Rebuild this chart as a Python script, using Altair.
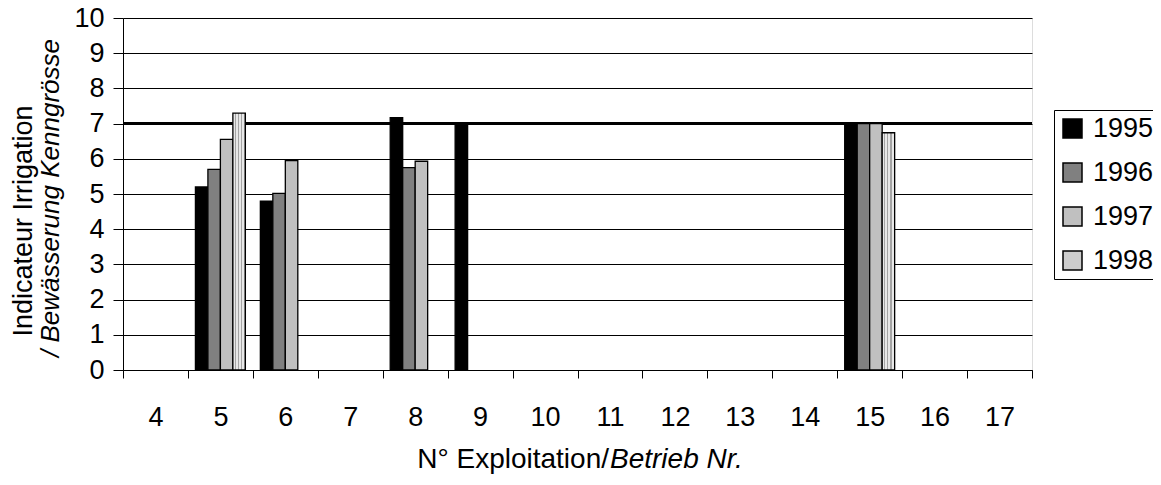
import altair as alt
import pandas as pd

# ---- data ----
farms = ["4", "5", "6", "7", "8", "9", "10", "11", "12", "13", "14", "15", "16", "17"]
years = ["1995", "1996", "1997", "1998"]
bar_farm = ["5", "5", "5", "5", "6", "6", "6", "8", "8", "8", "9", "15", "15", "15", "15"]
bar_year = ["1995", "1996", "1997", "1998", "1995", "1996", "1997", "1995", "1996", "1997",
            "1995", "1995", "1996", "1997", "1998"]
bar_value = [5.2, 5.7, 6.55, 7.3, 4.8, 5.02, 5.95, 7.17, 5.75, 5.93, 7.0, 7.02, 7.0, 7.0, 6.74]
threshold = [7]
y_ticks = list(range(0, 11))
year_colors = ["#000000", "#808080", "#c0c0c0", "#cdcdcd"]

y_title_1 = "Indicateur Irrigation"
y_title_2 = "/ Bewässerung Kenngrösse"
x_title_1 = "N° Exploitation/"
x_title_2 = "Betrieb Nr."

FONT = "Liberation Sans"
FS = 27

df = pd.DataFrame({"farm": bar_farm, "year": bar_year, "value": bar_value})

# dotted-texture look for the 1998 series (vertical stripes)
stops = []
for i in range(4):
    a = i / 4
    stops += [{"offset": a, "color": "#e8e8e8"}, {"offset": a + 0.16, "color": "#e8e8e8"},
              {"offset": a + 0.16, "color": "#a4a4a4"}, {"offset": a + 0.25, "color": "#a4a4a4"}]
texture = {"gradient": "linear", "x1": 0, "y1": 0, "x2": 1, "y2": 0, "stops": stops}

y_axis = alt.Axis(title=None, values=y_ticks, grid=True, gridColor="black",
                  gridWidth=1, gridOpacity=1, tickSize=10, labelPadding=9,
                  labelFontSize=FS, labelFont=FONT, labelColor="black",
                  labelOverlap=False, domainColor="black", tickColor="black")
y_scale = alt.Scale(domain=[0, 10], nice=False, zero=True)

bars = alt.Chart(df).mark_bar(stroke="black", strokeWidth=1.3).encode(
    x=alt.X("farm:N",
            scale=alt.Scale(domain=farms, paddingInner=0, paddingOuter=0),
            axis=alt.Axis(title=None, labelAngle=0, tickBand="extent", tickSize=8,
                          labelPadding=26, labelFontSize=FS, labelFont=FONT,
                          labelColor="black", domainColor="black", tickColor="black",
                          domainWidth=1, tickWidth=1)),
    xOffset=alt.XOffset("year:N", scale=alt.Scale(domain=years, paddingInner=0, paddingOuter=0.6)),
    y=alt.Y("value:Q", scale=y_scale, axis=y_axis),
    fill=alt.condition(
        "datum.year == '1998'",
        alt.value(texture),
        alt.Fill("year:N",
                 scale=alt.Scale(domain=years, range=year_colors),
                 legend=alt.Legend(title=None, orient="none", legendX=931, legendY=92,
                                   strokeColor="black", padding=5,
                                   symbolType="square", symbolSize=361,
                                   symbolStrokeColor="black", symbolStrokeWidth=1.5,
                                   labelFontSize=FS, labelFont=FONT, labelColor="black",
                                   labelOffset=7, rowPadding=16)),
    ),
)

rule = alt.Chart(pd.DataFrame({"value": threshold})).mark_rule(
    color="black", strokeWidth=3
).encode(y=alt.Y("value:Q", scale=y_scale, axis=y_axis))

def label(text, x, y, size, angle=0, style="normal", align="center"):
    return alt.Chart(pd.DataFrame({"t": [text]})).mark_text(
        font=FONT, fontSize=size, fontStyle=style, color="black", angle=angle,
        align=align, baseline="middle"
    ).encode(text="t:N", x=alt.value(x), y=alt.value(y))

t1 = label(y_title_1, -99, 203, 27, angle=270)
t2 = label(y_title_2, -72, 180, 26, angle=270, style="italic")
t3 = label(x_title_1, 486, 442, 28, align="right")
t4 = label(x_title_2, 487, 442, 28, style="italic", align="left")

chart = alt.layer(rule, bars, t1, t2, t3, t4).properties(
    width=909, height=352,
    padding={"left": 115, "top": 10, "right": 121, "bottom": 107},
    autosize=alt.AutoSizeParams(type="none"),
    background="white",
).configure_view(stroke="#808080", strokeWidth=1).configure(font=FONT)

chart.save("out.html", embed_options={"renderer": "svg", "actions": False})
